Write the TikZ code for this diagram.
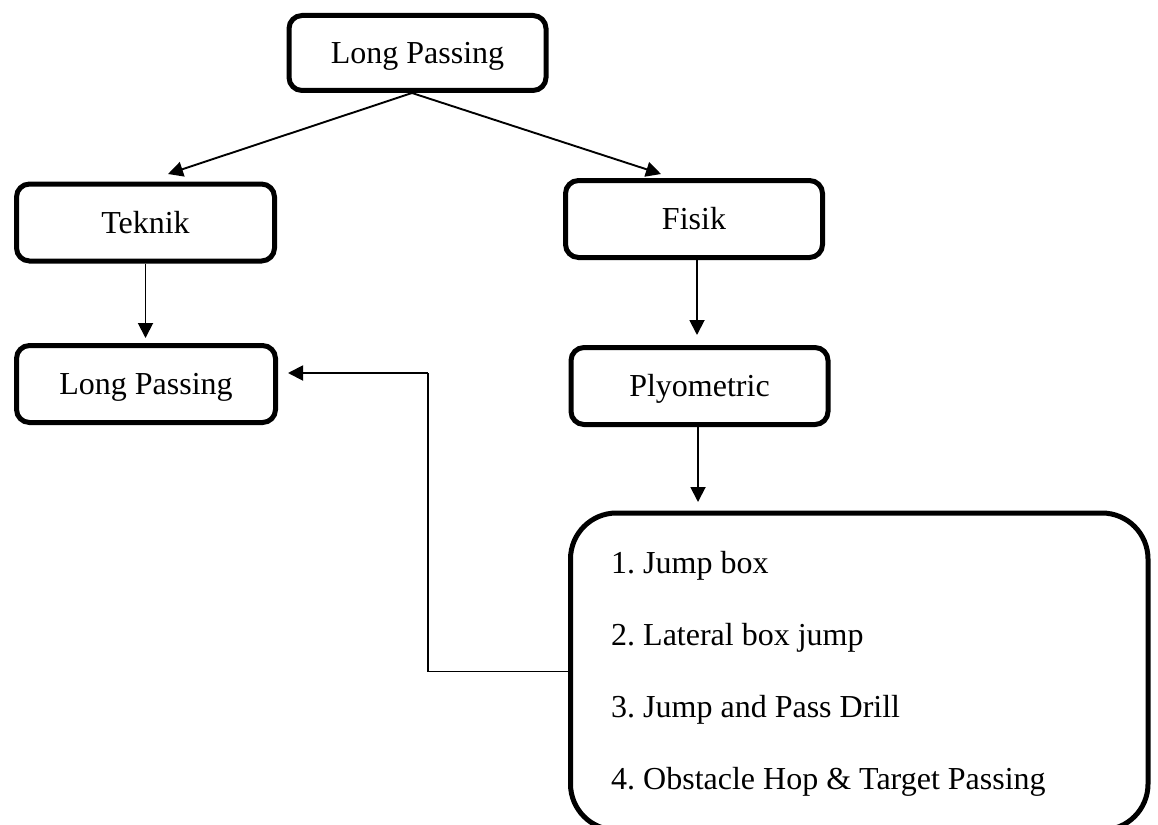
\documentclass[tikz,border=0pt]{standalone}
\usepackage{fontspec}
\setmainfont{Liberation Serif}
\usetikzlibrary{arrows.meta,calc}
\begin{document}
\frenchspacing
\begin{tikzpicture}[x=1pt,y=-1pt,
  box/.style={draw=black, line width=5pt, rounded corners=13pt, inner sep=0pt,
    minimum width=257pt, minimum height=77pt, text height=21pt, text depth=0pt,
    font=\fontsize{32}{38}\selectfont},
  bigbox/.style={draw=black, line width=5pt, rounded corners=46pt, inner sep=0pt,
    minimum width=577.5pt, minimum height=317pt},
  item/.style={anchor=base west, inner sep=0pt, font=\fontsize{32}{38}\selectfont},
  arr/.style={line width=1.9pt, -{Triangle[length=15pt,width=15pt]}},
  link/.style={line width=1.9pt}]
\useasboundingbox (0,0) rectangle (1158,824);
\clip (0,0) rectangle (1158,824);

\node[box, minimum height=75pt] (top) at (417.5,53) {Long Passing};
\node[box, minimum width=258pt] (tek) at (145.5,222.5) {Teknik};
\node[box, minimum width=259pt] (lp2) at (146,384) {Long Passing};
\node[box] (fis) at (694,219) {Fisik};
\node[box] (ply) at (699.5,386) {Plyometric};
\node[bigbox] (big) at (859.25,671.5) {};

\node[item] (i1) at (611,573) {1. Jump box};
\node[item] (i2) at (611,645) {2. Lateral box jump};
\node[item] (i3) at (611,717) {3. Jump and Pass Drill};
\node[item] (i4) at (611,789) {4. Obstacle Hop \& Target Passing};

\coordinate (src) at ($(top.south)+(-5.5,0)$);
\coordinate (tipL) at (168,174);
\coordinate (tipR) at (661,174);
\draw[arr] (src) -- (tipL);
\draw[arr] (src) -- (tipR);

\draw[arr, shorten >=5pt] (tek.south) -- (tek.south |- lp2.north);
\draw[arr] ($(fis.south)+(3,0)$) -- ++(0,75);
\draw[arr] ($(ply.south)+(-1.5,0)$) -- ++(0,75);

\coordinate (bend) at (428,373);
\draw[link] (big.west) -| (bend);
\draw[arr, shorten >=10pt] (bend) -- (lp2.east |- bend);
\end{tikzpicture}
\end{document}
